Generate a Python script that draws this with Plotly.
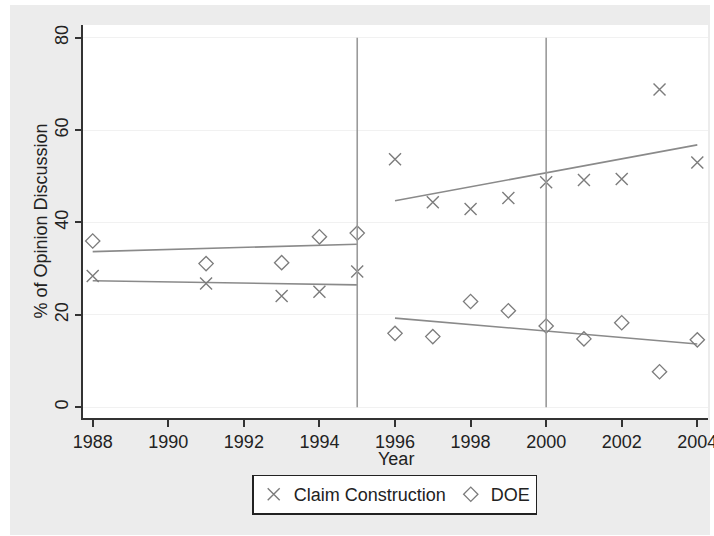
import plotly.graph_objects as go

# ---- data ----
years_claim = [1988, 1991, 1993, 1994, 1995, 1996, 1997, 1998, 1999, 2000, 2001, 2002, 2003, 2004]
claim_construction = [28.4, 26.8, 24.1, 25.0, 29.4, 53.7, 44.4, 42.9, 45.3, 48.7, 49.2, 49.4, 68.8, 53.0]
years_doe = [1988, 1991, 1993, 1994, 1995, 1996, 1997, 1998, 1999, 2000, 2001, 2002, 2003, 2004]
doe = [36.0, 31.1, 31.3, 36.9, 37.7, 16.0, 15.3, 22.9, 20.9, 17.6, 14.8, 18.3, 7.7, 14.6]

# fitted trend lines (endpoints)
fit_early_x = [1988, 1995]
fit_late_x = [1996, 2004]
claim_fit_early = [27.4, 26.5]
claim_fit_late = [44.7, 56.8]
doe_fit_early = [33.7, 35.3]
doe_fit_late = [19.3, 13.7]

vline_years = [1995, 2000]
vline_span = [0, 80]

x_ticks = [1988, 1990, 1992, 1994, 1996, 1998, 2000, 2002, 2004]
y_ticks = [0, 20, 40, 60, 80]

# ---- styling ----
FONT = "Liberation Sans, Arial, sans-serif"
MARK = "#7c7c7c"
LINE = "#8a8a8a"
VLINE = "#9a9a9a"
BG = "#ececec"
TXT = "#222"

fig = go.Figure()

for fx, fy in [(fit_early_x, claim_fit_early), (fit_late_x, claim_fit_late),
               (fit_early_x, doe_fit_early), (fit_late_x, doe_fit_late)]:
    fig.add_trace(go.Scatter(x=fx, y=fy, mode="lines", showlegend=False,
                             line=dict(color=LINE, width=1.6), hoverinfo="skip"))

fig.add_trace(go.Scatter(
    x=years_claim, y=claim_construction, mode="markers", name="Claim Construction",
    marker=dict(symbol="x-thin", size=12, color=MARK, line=dict(color=MARK, width=1.4))))
fig.add_trace(go.Scatter(
    x=years_doe, y=doe, mode="markers", name="DOE",
    marker=dict(symbol="diamond-open", size=11, color=MARK, line=dict(color=MARK, width=1.3))))

shapes = []
for vx in vline_years:
    shapes.append(dict(type="line", xref="x", yref="y", x0=vx, x1=vx,
                       y0=vline_span[0], y1=vline_span[1],
                       line=dict(color=VLINE, width=1.6), layer="above"))

# plot-area geometry (pixels) used to place the outer white strips
L, R, T, B = 83, 708, 25, 418
W, H = R - L, B - T
def px(xp):
    return (xp - L) / W
def py(yp):
    return (B - yp) / H

for (x0, x1, y0, y1) in [(0, 10, 0, 536), (0, 714, 0, 5), (710, 714, 0, 536), (0, 714, 535, 536)]:
    shapes.append(dict(type="rect", xref="paper", yref="paper",
                       x0=px(x0), x1=px(x1), y0=py(y1), y1=py(y0),
                       fillcolor="white", line=dict(width=0), layer="below"))

fig.update_layout(
    width=714, height=536,
    margin=dict(l=L, r=714 - R, t=T, b=536 - B),
    paper_bgcolor=BG, plot_bgcolor="white",
    font=dict(family=FONT, size=18, color=TXT),
    shapes=shapes,
    showlegend=True,
    legend=dict(orientation="h", x=px(394.7), xanchor="center", y=py(494.5), yanchor="middle",
                bgcolor="white", bordercolor="#222", borderwidth=1.5,
                font=dict(family=FONT, size=18, color=TXT), itemwidth=30),
    annotations=[
        dict(text="% of Opinion Discussion", xref="paper", yref="paper",
             x=px(40), y=0.5, xanchor="center", yanchor="middle", textangle=-90,
             showarrow=False, font=dict(family=FONT, size=18, color=TXT)),
        dict(text="Year", xref="paper", yref="paper", x=px(395.5), y=py(459),
             xanchor="center", yanchor="middle",
             showarrow=False, font=dict(family=FONT, size=18, color=TXT)),
    ],
)

fig.update_xaxes(range=[1987.743, 2004.283], tickvals=x_ticks, ticktext=[str(t) for t in x_ticks],
                 showgrid=False, zeroline=False, showline=True, linecolor="#333", linewidth=1.5,
                 ticks="outside", ticklen=7, tickwidth=1.5, tickcolor="#333",
                 ticklabeloverflow="allow", automargin=False)
fig.update_yaxes(range=[-2.32, 82.75], tickvals=y_ticks, tickangle=-90,
                 showgrid=True, gridcolor="#f1f1f1", gridwidth=1, zeroline=False,
                 showline=True, linecolor="#333", linewidth=1.5,
                 ticks="outside", ticklen=6, tickwidth=1.5, tickcolor="#333", automargin=False)

fig.write_html("out.html", config={"displayModeBar": False},
               post_script="document.body.style.margin='0';document.body.style.padding='0';")
